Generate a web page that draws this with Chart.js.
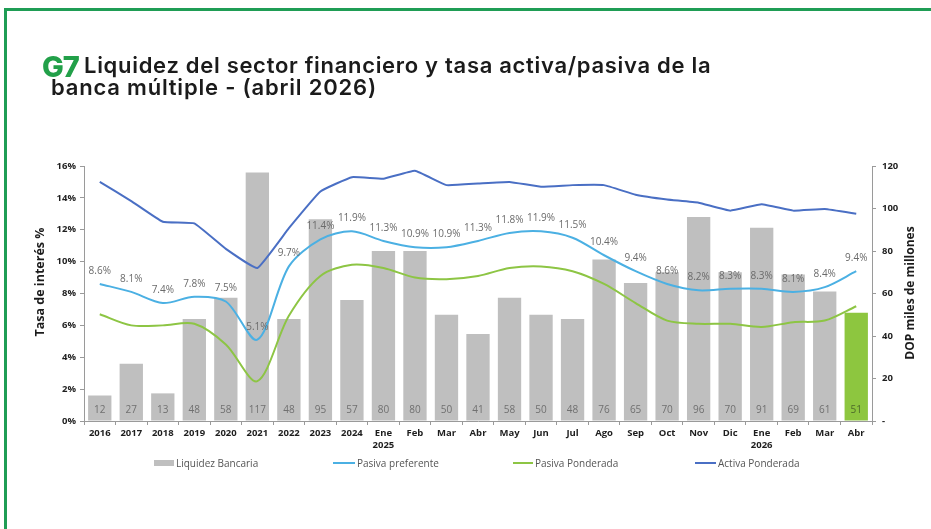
<!DOCTYPE html>
<html>
<head>
<meta charset="utf-8">
<script src="https://cdn.jsdelivr.net/npm/chart.js@4.4.1/dist/chart.umd.min.js"></script>
<style>
html,body{margin:0;padding:0;background:#fff;}
#wrap{position:relative;width:931px;height:529px;overflow:hidden;background:#fff;}
#chart{position:absolute;left:0;top:0;}
.frameTop{position:absolute;left:4px;top:8px;width:940px;height:3px;background:#1f9d55;}
.frameLeft{position:absolute;left:4px;top:8px;width:3px;height:540px;background:#1f9d55;}
.title{position:absolute;font-family:"Inter",sans-serif;font-weight:600;color:#1b1b1b;white-space:nowrap;font-size:22px;line-height:22px;}
#g7{left:42px;top:52px;color:#22a049;font-size:29px;line-height:29px;font-weight:800;letter-spacing:-1px;}
#t1{left:84px;top:54px;letter-spacing:0.7px;}
#t2{left:51px;top:76px;letter-spacing:0.8px;}
.leg{position:absolute;top:456px;font-family:"Open Sans",sans-serif;font-size:10px;color:#555;white-space:nowrap;line-height:14px;}
.leg i{display:inline-block;vertical-align:middle;margin-right:2px;position:relative;top:-1px;}
</style>
</head>
<body>
<div id="wrap">
<canvas id="chart" width="931" height="529"></canvas>
<div class="frameTop"></div>
<div class="frameLeft"></div>
<div class="title" id="g7">G7</div>
<div class="title" id="t1">Liquidez del sector financiero y tasa activa/pasiva de la</div>
<div class="title" id="t2">banca múltiple - (abril 2026)</div>
<div class="leg" style="left:154px"><i style="width:20px;height:6px;background:#bfbfbf"></i>Liquidez Bancaria</div>
<div class="leg" style="left:333px"><i style="width:22px;height:2px;background:#4bb0e3"></i>Pasiva preferente</div>
<div class="leg" style="left:513px"><i style="width:20px;height:2px;background:#8dc544"></i>Pasiva Ponderada</div>
<div class="leg" style="left:695px"><i style="width:21px;height:2px;background:#4a6fc4"></i>Activa Ponderada</div>
</div>
<script>

const categories = ["2016","2017","2018","2019","2020","2021","2022","2023","2024",["Ene","2025"],"Feb","Mar","Abr","May","Jun","Jul","Ago","Sep","Oct","Nov","Dic",["Ene","2026"],"Feb","Mar","Abr"]

const liquidez = [12,27,13,48,58,117,48,95,57,80,80,50,41,58,50,48,76,65,70,96,70,91,69,61,51]

const pasivaPreferente = [8.6,8.1,7.4,7.8,7.5,5.1,9.7,11.4,11.9,11.3,10.9,10.9,11.3,11.8,11.9,11.5,10.4,9.4,8.6,8.2,8.3,8.3,8.1,8.4,9.4]

const pasivaPonderada = [6.7,6.0,6.0,6.1,4.8,2.5,6.6,9.1,9.8,9.6,9.0,8.9,9.1,9.6,9.7,9.4,8.6,7.4,6.3,6.1,6.1,5.9,6.2,6.3,7.2]

const activaPonderada = [15.0,13.8,12.5,12.4,10.8,9.6,12.1,14.4,15.3,15.2,15.7,14.8,14.9,15.0,14.7,14.8,14.8,14.2,13.9,13.7,13.2,13.6,13.2,13.3,13.0]

const leftTicks = [0,2,4,6,8,10,12,14,16]
const rightTicks = [0,20,40,60,80,100,120]

const GRAY_BAR = "#bfbfbf"
const GREEN_BAR = "#8dc63f"

const barColors = liquidez.map((v,i)=> i===liquidez.length-1 ? GREEN_BAR : GRAY_BAR)

/* etiquetas de valores */
const valueLabels = {
  id:"valueLabels",
  afterDatasetsDraw(chart){
    const {ctx} = chart
    const base = chart.scales.y2.getPixelForValue(0)
    ctx.save()
    ctx.font = "10px 'Open Sans'"
    ctx.textAlign = "center"
    ctx.textBaseline = "middle"
    chart.getDatasetMeta(0).data.forEach((b,i)=>{
      ctx.fillStyle = i===liquidez.length-1 ? "#4d6a2a" : "#707070"
      ctx.fillText(liquidez[i], b.x, base-11)
    })
    ctx.fillStyle = "#6b6b6b"
    chart.getDatasetMeta(1).data.forEach((p,i)=>{
      ctx.fillText(pasivaPreferente[i].toFixed(1)+"%", p.x, p.y-13)
    })
    ctx.restore()
  }
}

/* titulos de ejes */
const axisTitles = {
  id:"axisTitles",
  afterDraw(chart){
    const {ctx} = chart
    ctx.save()
    ctx.font = "bold 12.5px 'Open Sans'"
    ctx.fillStyle = "#1b1b1b"
    ctx.textAlign = "center"
    ctx.textBaseline = "middle"
    ctx.translate(40, 282)
    ctx.rotate(-Math.PI/2)
    ctx.fillText("Tasa de interés %",0,0)
    ctx.restore()
    ctx.save()
    ctx.font = "bold 12px 'Open Sans'"
    ctx.fillStyle = "#1b1b1b"
    ctx.textAlign = "center"
    ctx.textBaseline = "middle"
    ctx.translate(911, 293)
    ctx.rotate(-Math.PI/2)
    ctx.fillText("DOP miles de millones",0,0)
    ctx.restore()
  }
}

const tickFont = {family:"'Open Sans'", size:9.5, weight:"bold", lineHeight:1.3}

new Chart(document.getElementById("chart"),{
  type:"bar",
  data:{
    labels:categories,
    datasets:[
      {
        label:"Liquidez Bancaria",
        data:liquidez,
        yAxisID:"y2",
        backgroundColor:barColors,
        barPercentage:0.74,
        categoryPercentage:1,
        order:4
      },
      {
        type:"line",
        label:"Pasiva preferente",
        data:pasivaPreferente,
        yAxisID:"y",
        borderColor:"#4bb0e3",
        borderWidth:2,
        pointRadius:0,
        tension:0.3,
        order:2
      },
      {
        type:"line",
        label:"Pasiva Ponderada",
        data:pasivaPonderada,
        yAxisID:"y",
        borderColor:"#8dc544",
        borderWidth:2,
        pointRadius:0,
        tension:0.3,
        order:3
      },
      {
        type:"line",
        label:"Activa Ponderada",
        data:activaPonderada,
        yAxisID:"y",
        borderColor:"#4a6fc4",
        borderWidth:2,
        pointRadius:0,
        tension:0.1,
        order:1
      }
    ]
  },
  options:{
    responsive:false,
    animation:false,
    layout:{padding:{top:166,left:0,right:0,bottom:0}},
    plugins:{legend:{display:false},tooltip:{enabled:false}},
    scales:{
      x:{
        afterFit(s){ s.height = 108 },
        grid:{offset:true,drawOnChartArea:false,drawTicks:true,tickLength:4,color:"#9a9a9a"},
        border:{color:"#9a9a9a"},
        ticks:{font:tickFont,color:"#1e1e1e",padding:2,maxRotation:0,autoSkip:false}
      },
      y:{
        position:"left",
        min:0,max:16,
        afterFit(s){ s.width = 84 },
        afterBuildTicks(s){ s.ticks = leftTicks.map(v=>({value:v})) },
        grid:{drawOnChartArea:false,tickLength:4,color:"#9a9a9a"},
        border:{color:"#9a9a9a"},
        ticks:{font:tickFont,color:"#1e1e1e",padding:4,callback:v=>v+"%"}
      },
      y2:{
        position:"right",
        min:0,max:120,
        afterFit(s){ s.width = 59 },
        afterBuildTicks(s){ s.ticks = rightTicks.map(v=>({value:v})) },
        grid:{drawOnChartArea:false,tickLength:4,color:"#9a9a9a"},
        border:{color:"#9a9a9a"},
        ticks:{font:tickFont,color:"#1e1e1e",padding:6,callback:v=> v===0 ? "-" : v}
      }
    }
  },
  plugins:[valueLabels,axisTitles]
})
</script>
</body>
</html>
